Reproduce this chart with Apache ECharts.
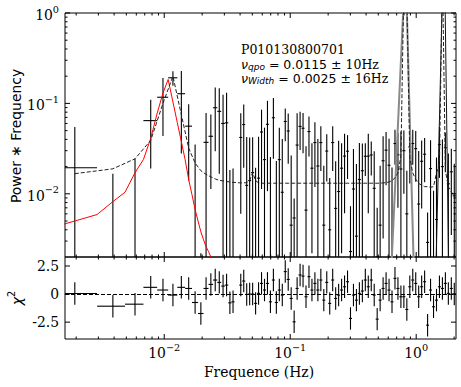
<!DOCTYPE html>
<html>
<head>
<meta charset="utf-8">
<script src="https://cdn.jsdelivr.net/npm/echarts@6/dist/echarts.min.js"></script>
<style>
  html, body { margin: 0; padding: 0; background: #fff; }
  #chart { width: 461px; height: 387px; }
</style>
</head>
<body>
<div id="chart"></div>
<script>
// bin centres (Hz): 18 linear bins of 1/512 Hz, then log-rebinned
const freq = [
  0.00195, 0.00391, 0.00586, 0.00781, 0.00977, 0.01172, 0.01367, 0.01563, 0.01758, 0.01953,
  0.02148, 0.02344, 0.02539, 0.02734, 0.0293, 0.03125, 0.0332, 0.03516,
  0.0405, 0.04276, 0.04514, 0.04765, 0.05031, 0.05311, 0.05607, 0.05919, 0.06249, 0.06597,
  0.06964, 0.07352, 0.07762, 0.08194, 0.0865, 0.09132, 0.09641, 0.10178, 0.10745, 0.11343,
  0.11975, 0.12642, 0.13346, 0.14089, 0.14874, 0.15702, 0.16577, 0.175, 0.18475, 0.19504,
  0.2059, 0.21737, 0.22948, 0.24226, 0.25575, 0.26999, 0.28503, 0.30091, 0.31767, 0.33536,
  0.35404, 0.37376, 0.39458, 0.41656, 0.43976, 0.46425, 0.49011, 0.51741, 0.54623, 0.57665,
  0.60877, 0.64268, 0.67848, 0.71627, 0.75616, 0.79828, 0.84274, 0.88968, 0.93924, 0.99155,
  1.04678, 1.10509, 1.16664, 1.23162, 1.30022, 1.37264, 1.4491, 1.52981, 1.61502, 1.70498,
  1.79994, 1.9002, 2.00604
];
const nLinear = 18;
const linHalfWidth = 0.000977;
const logHalfFrac = 0.0275;

const power = [
  0.0194, -0.0108, -0.0056, 0.0645, 0.117, 0.192, 0.128, 0.056, -0.017, -0.0194,
  0.0371, 0.0433, 0.0896, 0.0817, 0.060, 0.061, -0.0037, 0.0010,
  0.0420, 0.0584, 0.0124, 0.0140, 0.0172, -0.0126, 0.0149, 0.0483, 0.0239, 0.0587,
  -0.0145, 0.0694, -0.0169, 0.0239, 0.0104, 0.0631, 0.0495, 0.0045, 0.0054, 0.0346,
  0.0556, 0.0531, 0.0066, 0.0488, 0.0192, 0.0369, 0.0203, 0.0369, 0.0045, 0.0297,
  0.0040, 0.0369, 0.0069, 0.0106, 0.0192, 0.0261, 0.0296, 0.0023, 0.0113, 0.0034,
  0.0144, 0.0180, 0.0260, 0.0261, 0.0269, 0.0115, 0.0020, 0.0045, 0.0232, 0.0304,
  0.0207, 0.0016, 0.0360, 0.0270, 0.0188, 0.0300, 0.0060, 0.0330, 0.0360, 0.0316,
  0.0077, 0.0229, 0.0274, 0.0029, 0.0190, 0.0018, 0.0052, 0.0350, 0.0200, 0.0323,
  0.0129, 0.0175, 0.0095
];
const powerErr = [
  0.0356, 0.0275, 0.030, 0.0455, 0.0735, 0.035, 0.100, 0.042, 0.052, 0.0216,
  0.041, 0.032, 0.060, 0.065, 0.065, 0.070, 0.022, 0.018,
  0.036, 0.039, 0.030, 0.028, 0.025, 0.032, 0.028, 0.037, 0.030, 0.048,
  0.040, 0.045, 0.040, 0.030, 0.030, 0.025, 0.028, 0.022, 0.0035, 0.043,
  0.025, 0.025, 0.027, 0.023, 0.017, 0.025, 0.020, 0.019, 0.016, 0.016,
  0.011, 0.019, 0.016, 0.028, 0.017, 0.020, 0.015, 0.005, 0.020, 0.018,
  0.022, 0.018, 0.0103, 0.020, 0.011, 0.018, 0.005, 0.016, 0.020, 0.018,
  0.020, 0.018, 0.015, 0.020, 0.030, 0.020, 0.012, 0.020, 0.015, 0.018,
  0.022, 0.016, 0.014, 0.0033, 0.020, 0.009, 0.020, 0.020, 0.020, 0.015,
  0.015, 0.014, 0.012
];
const chi = [
  0.05, -1.08, -0.9, 0.6, 0.36, -0.09, 0.6, 0.5, -0.75, -1.73,
  0.5, 0.86, 1.25, 1.04, 0.71, 0.8, -0.78, -0.69,
  0.8, 1.16, -0.03, 0.0, 0.0, -0.83, 0.06, 0.95, 0.36, 0.95,
  -0.69, 1.25, -0.75, 0.36, -0.09, 2.0, 1.3, -0.39, -2.47, 0.5,
  1.7, 1.6, -0.24, 1.55, 0.36, 0.95, 0.36, 1.25, -0.54, 1.04,
  -0.83, 1.25, -0.39, -0.09, 0.36, 0.65, 1.1, -2.17, -0.09, -0.54,
  0.06, 0.27, 1.25, 0.65, 1.25, -0.09, -2.23, -0.54, 0.5, 0.95,
  0.36, -0.69, 1.4, 0.5, -0.24, -0.24, -1.37, 0.65, 1.25, 0.95,
  -0.24, 0.65, 1.1, -2.77, 0.36, -1.13, -0.54, 0.65, 0.5, 0.95,
  0.06, 0.5, 0.0
];
// total model (dashed), at the bin centres
const modelTotal = [
  0.0167, 0.0189, 0.0244, 0.039, 0.10, 0.20, 0.075, 0.032, 0.0219, 0.018,
  0.0164, 0.0154, 0.0146, 0.0141, 0.0139, 0.0137, 0.0135, 0.0134,
  0.0132, 0.0132, 0.0133, 0.0140, 0.0172, 0.0140, 0.0132, 0.0131, 0.0131, 0.0131,
  0.0131, 0.0131, 0.0131, 0.0131, 0.0131, 0.0131, 0.0131, 0.0131, 0.0131, 0.0131,
  0.0131, 0.0131, 0.0131, 0.0131, 0.0131, 0.0131, 0.0131, 0.0131, 0.0131, 0.0131,
  0.0131, 0.0131, 0.0131, 0.0131, 0.0131, 0.0131, 0.0131, 0.0131, 0.0131, 0.0131,
  0.0131, 0.0131, 0.0131, 0.0131, 0.0131, 0.0131, 0.0131, 0.0131, 0.0132, 0.0133,
  0.0135, 0.0140, 0.0150, 0.0170, 0.026, 2.0, 1.5, 0.025, 0.017, 0.0145,
  0.0130, 0.0125, 0.0120, 0.0120, 0.0118, 0.0120, 0.017, 0.021, 3.0, 0.018,
  0.012, 0.0105, 0.0095
];
// QPO component (red) on the fine 1/1024 Hz grid
const qpoFreq = [
  0.000977, 0.00195, 0.00293, 0.00391, 0.00488, 0.00586, 0.00684, 0.00781, 0.00879, 0.00977,
  0.01074, 0.01172, 0.0127, 0.01367, 0.01465, 0.01563, 0.0166, 0.01758, 0.01855, 0.01953,
  0.02051, 0.02148, 0.02246, 0.02344, 0.02441, 0.02539
];
const qpoModel = [
  0.0038, 0.0050, 0.0059, 0.0082, 0.0104, 0.0171, 0.024, 0.041, 0.078, 0.13,
  0.184, 0.104, 0.0612, 0.0378, 0.0238, 0.0144, 0.0098, 0.0067, 0.005, 0.0038,
  0.0031, 0.0026, 0.0023, 0.002, 0.00175, 0.00155
];
// narrow components
const narrow1Freq = [0.634, 0.810, 0.830, 0.958];
const narrow1Model = [0.00143, 2.35, 2.35, 0.00143];
const narrow2Freq = [1.434, 1.624, 1.686, 1.812];
const narrow2Model = [0.00143, 2.35, 2.35, 0.00143];

const xMajor = [0.01, 0.1, 1];
const yMajor = [0.01, 0.1, 1];
const chiMajor = [-2.5, 0, 2.5];

const xMin = 0.00163, xMax = 2.07;
const yMin = 0.002, yMax = 1;
const chiMin = -4, chiMax = 3.3;

function minorTicks(lo, hi) {
  const out = [];
  for (let e = -4; e <= 1; e++) {
    for (let m = 2; m <= 9; m++) {
      const v = m * Math.pow(10, e);
      if (v > lo && v < hi) out.push(v);
    }
  }
  return out;
}

function xHalf(i) {
  return i < nLinear ? linHalfWidth : freq[i] * logHalfFrac;
}

const topBars = freq.map((f, i) => [f, power[i], f - xHalf(i), f + xHalf(i),
  power[i] - powerErr[i], power[i] + powerErr[i]]);
const chiBars = freq.map((f, i) => [f, chi[i], f - xHalf(i), f + xHalf(i), chi[i] - 1, chi[i] + 1]);

const serif = 'DejaVu Serif';
const sans = 'DejaVu Sans';

const logLabel = v => {
  const e = Math.round(Math.log10(v));
  return '{b|10}{s|' + (e < 0 ? '\u2212' + (-e) : String(e)) + '}';
};
const chiLabel = v => (v === 0 ? '0' : v.toFixed(1));
const powRich = {
  b: { fontSize: 13.9, fontFamily: serif, lineHeight: 18, verticalAlign: 'bottom' },
  s: { fontSize: 9.7, fontFamily: serif, lineHeight: 8, verticalAlign: 'top' }
};

function line(x1, y1, x2, y2, w) {
  return { type: 'line', shape: { x1, y1, x2, y2 }, style: { stroke: '#000', lineWidth: w || 1 } };
}

// kind: 0 x major, 1 x minor, 2 y major, 3 y minor
function makeTicks(xLabel, yLabel) {
  return function (params, api) {
    const r = params.coordSys;
    const kind = api.value(2);
    const p = api.coord([api.value(0), api.value(1)]);
    const bottom = r.y + r.height, right = r.x + r.width;
    const children = [];
    if (kind <= 1) {
      const len = kind === 0 ? 5 : 2.5;
      children.push(line(p[0], bottom, p[0], bottom - len), line(p[0], r.y, p[0], r.y + len));
      if (kind === 0 && xLabel) {
        children.push({ type: 'text', x: p[0], y: bottom + 3, style: {
          text: xLabel(api.value(0)), rich: powRich, fill: '#000',
          fontSize: 13.9, fontFamily: serif, align: 'center', verticalAlign: 'top' } });
      }
    } else {
      const len = kind === 2 ? 5 : 2.5;
      children.push(line(r.x, p[1], r.x + len, p[1]), line(right, p[1], right - len, p[1]));
      if (kind === 2 && yLabel) {
        children.push({ type: 'text', x: r.x - 6, y: p[1], style: {
          text: yLabel(api.value(1)), rich: powRich, fill: '#000',
          fontSize: 13.9, fontFamily: serif, align: 'right', verticalAlign: 'middle' } });
      }
    }
    return { type: 'group', children };
  };
}

function makeErrorBars(logY) {
  return function (params, api) {
    const r = params.coordSys;
    const left = r.x, right = r.x + r.width, top = r.y, bottom = r.y + r.height;
    const cx = v => Math.max(left, Math.min(right, v));
    const cy = v => Math.max(top, Math.min(bottom, v));
    const yRef = api.value(5);
    const px = api.coord([api.value(0), yRef])[0];
    const xa = cx(api.coord([api.value(2), yRef])[0]);
    const xb = cx(api.coord([api.value(3), yRef])[0]);
    const yPix = v => (logY && v <= 0) ? bottom + 10 : api.coord([api.value(0), v])[1];
    const yc = yPix(api.value(1));
    const ylo = yPix(api.value(4));
    const yhi = yPix(api.value(5));
    const children = [];
    if (yhi < bottom) children.push(line(px, cy(ylo), px, cy(yhi), 1.1));
    if (yc >= top && yc <= bottom) children.push(line(xa, yc, xb, yc, 1.1));
    return { type: 'group', children };
  };
}

const topTicks = []
  .concat(xMajor.map(v => [v, 0.1, 0]))
  .concat(minorTicks(xMin, xMax).map(v => [v, 0.1, 1]))
  .concat(yMajor.map(v => [0.1, v, 2]))
  .concat(minorTicks(yMin, yMax).map(v => [0.1, v, 3]));
const bottomTicks = []
  .concat(xMajor.map(v => [v, 0, 0]))
  .concat(minorTicks(xMin, xMax).map(v => [v, 0, 1]))
  .concat(chiMajor.map(v => [0.1, v, 2]));

const hidden = {
  axisLine: { show: false }, axisTick: { show: false },
  axisLabel: { show: false }, splitLine: { show: false }
};

const gridStyle = { show: true, borderColor: '#000', borderWidth: 1, backgroundColor: 'transparent', outerBoundsMode: 'none' };

const annRich = {
  i: { fontSize: 12.5, fontFamily: sans, fontStyle: 'italic', lineHeight: 15 },
  sub: { fontSize: 9, fontFamily: sans, fontStyle: 'italic', lineHeight: 7, verticalAlign: 'bottom' },
  m: { fontSize: 12.5, fontFamily: sans, lineHeight: 15 },
  t: { fontSize: 12.5, fontFamily: serif, lineHeight: 15 }
};

const option = {
  animation: false,
  backgroundColor: '#fff',
  grid: [
    Object.assign({ left: 65, top: 13, width: 391, height: 244 }, gridStyle),
    Object.assign({ left: 65, top: 257, width: 391, height: 82 }, gridStyle)
  ],
  xAxis: [
    Object.assign({ gridIndex: 0, type: 'log', logBase: 10, min: xMin, max: xMax }, hidden),
    Object.assign({ gridIndex: 1, type: 'log', logBase: 10, min: xMin, max: xMax }, hidden)
  ],
  yAxis: [
    Object.assign({ gridIndex: 0, type: 'log', logBase: 10, min: yMin, max: yMax }, hidden),
    Object.assign({ gridIndex: 1, type: 'value', min: chiMin, max: chiMax }, hidden)
  ],
  graphic: [
    { type: 'text', x: 241, y: 49, style: { text: 'P010130800701', fill: '#000', fontSize: 12.5, fontFamily: serif, verticalAlign: 'middle' } },
    { type: 'text', x: 241, y: 64, style: { text: '{i|\u03bd}{sub|qpo}{m| = 0.0115 \u00b1 }{t|10Hz}', rich: annRich, fill: '#000', verticalAlign: 'middle' } },
    { type: 'text', x: 241, y: 78, style: { text: '{i|\u03bd}{sub|Width}{m| = 0.0025 \u00b1 }{t|16Hz}', rich: annRich, fill: '#000', verticalAlign: 'middle' } },
    { type: 'text', x: 16, y: 136, rotation: Math.PI / 2, style: { text: 'Power \u2217 Frequency', fill: '#000', fontSize: 13.9, fontFamily: sans, align: 'center', verticalAlign: 'middle' } },
    { type: 'text', x: 15, y: 298, rotation: Math.PI / 2, style: { text: '{c|\u03c7}{s|2}', fill: '#000', align: 'center', verticalAlign: 'middle',
      rich: { c: { fontSize: 13.9, fontFamily: sans, fontStyle: 'italic', lineHeight: 18, verticalAlign: 'bottom' },
              s: { fontSize: 9.7, fontFamily: sans, lineHeight: 8, verticalAlign: 'top' } } } },
    { type: 'text', x: 259, y: 372, style: { text: 'Frequence (Hz)', fill: '#000', fontSize: 13.9, fontFamily: serif, align: 'center', verticalAlign: 'middle' } }
  ],
  series: [
    { type: 'custom', xAxisIndex: 0, yAxisIndex: 0, silent: true, z: 2, clip: true,
      encode: { x: 0, y: 5 }, data: topBars, renderItem: makeErrorBars(true) },
    { type: 'custom', xAxisIndex: 1, yAxisIndex: 1, silent: true, z: 2, clip: true,
      encode: { x: 0, y: 5 }, data: chiBars, renderItem: makeErrorBars(false) },
    { type: 'line', xAxisIndex: 0, yAxisIndex: 0, silent: true, z: 3, clip: true, symbol: 'none',
      data: qpoFreq.map((f, i) => [f, qpoModel[i]]), lineStyle: { color: '#ff0000', width: 1 } },
    { type: 'line', xAxisIndex: 0, yAxisIndex: 0, silent: true, z: 3, clip: true, symbol: 'none',
      data: narrow1Freq.map((f, i) => [f, narrow1Model[i]]), lineStyle: { color: '#8a8a8a', width: 2 } },
    { type: 'line', xAxisIndex: 0, yAxisIndex: 0, silent: true, z: 3, clip: true, symbol: 'none',
      data: narrow2Freq.map((f, i) => [f, narrow2Model[i]]), lineStyle: { color: '#111', width: 1 } },
    { type: 'line', xAxisIndex: 0, yAxisIndex: 0, silent: true, z: 4, clip: true, symbol: 'none',
      data: freq.map((f, i) => [f, modelTotal[i]]), lineStyle: { color: '#222', width: 1, type: [4, 2] } },
    { type: 'line', xAxisIndex: 1, yAxisIndex: 1, silent: true, z: 4, symbol: 'none', data: [],
      markLine: { silent: true, symbol: 'none', label: { show: false },
        lineStyle: { color: '#000', width: 1, type: [4, 2] }, data: [{ yAxis: 0 }] } },
    { type: 'custom', xAxisIndex: 0, yAxisIndex: 0, silent: true, z: 5, clip: false,
      encode: { x: 0, y: 1 }, data: topTicks, renderItem: makeTicks(null, logLabel) },
    { type: 'custom', xAxisIndex: 1, yAxisIndex: 1, silent: true, z: 5, clip: false,
      encode: { x: 0, y: 1 }, data: bottomTicks, renderItem: makeTicks(logLabel, chiLabel) }
  ]
};

const chart = echarts.init(document.getElementById('chart'), null, { renderer: 'svg', width: 461, height: 387 });
chart.setOption(option);
</script>
</body>
</html>
